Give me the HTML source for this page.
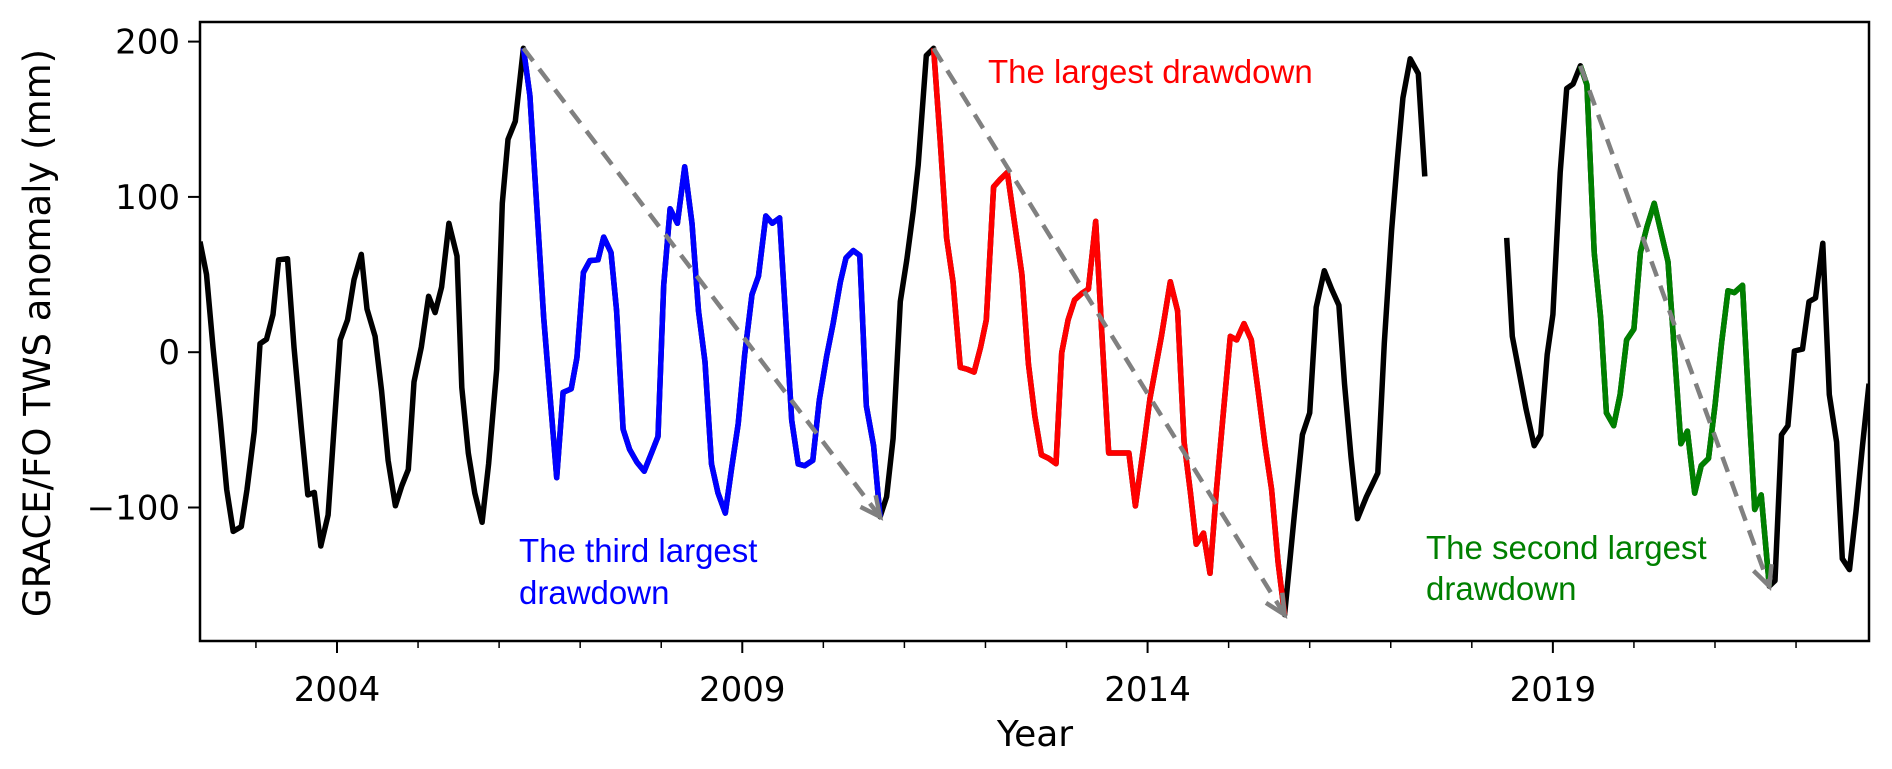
<!DOCTYPE html>
<html><head><meta charset="utf-8"><style>
html,body{margin:0;padding:0;background:#fff;}
svg{display:block;}
</style></head><body>
<svg id="chart" width="1892" height="769" viewBox="0 0 1892 769" xmlns="http://www.w3.org/2000/svg">
<rect x="0" y="0" width="1892" height="769" fill="#fff"/>
<g id="plot"></g>
</svg>
<script>
const dates = [2002.31,2002.39,2002.47,2002.56,2002.64,2002.72,2002.82,2002.89,2002.98,2003.05,2003.13,2003.21,2003.28,2003.39,2003.47,2003.56,2003.64,2003.72,2003.80,2003.89,2003.97,2004.04,2004.13,2004.21,2004.30,2004.37,2004.47,2004.55,2004.63,2004.72,2004.80,2004.88,2004.95,2005.04,2005.13,2005.21,2005.29,2005.38,2005.48,2005.54,2005.62,2005.70,2005.79,2005.87,2005.97,2006.04,2006.11,2006.20,2006.30,
2006.38,2006.46,2006.55,2006.63,2006.71,2006.79,2006.89,2006.96,2007.04,2007.12,2007.22,2007.29,2007.38,2007.45,2007.53,2007.61,2007.70,2007.79,2007.88,2007.96,2008.03,2008.11,2008.20,2008.29,2008.38,2008.46,2008.54,2008.62,2008.70,2008.79,2008.87,2008.95,2009.03,2009.12,2009.20,2009.29,2009.37,2009.46,2009.54,2009.61,2009.69,2009.77,2009.87,2009.95,2010.04,2010.12,2010.21,2010.28,2010.37,2010.45,2010.53,2010.62,2010.70,
2010.78,2010.86,2010.95,2011.03,2011.11,2011.17,2011.27,2011.36,
2011.44,2011.52,2011.60,2011.69,2011.77,2011.86,2011.94,2012.01,2012.10,2012.18,2012.27,2012.36,2012.45,2012.53,2012.61,2012.69,2012.78,2012.87,2012.94,2013.02,2013.10,2013.19,2013.27,2013.36,2013.44,2013.52,2013.65,2013.77,2013.85,2013.95,2014.03,2014.17,2014.28,2014.37,2014.45,2014.53,2014.60,2014.69,2014.77,2014.85,2014.93,2015.02,2015.10,2015.19,2015.28,2015.37,2015.45,2015.53,2015.61,2015.69,
2015.81,2015.91,2016.00,2016.08,2016.18,2016.27,2016.36,2016.43,2016.51,2016.59,2016.70,2016.84,2016.92,2017.01,2017.08,2017.15,2017.24,2017.34,2017.42,
2017.90,
2018.43,2018.50,2018.59,2018.67,2018.77,2018.85,2018.93,2019.00,2019.09,2019.17,2019.25,2019.34,
2019.42,2019.51,2019.59,2019.66,2019.75,2019.83,2019.91,2020.00,2020.08,2020.16,2020.25,2020.34,2020.42,2020.50,2020.58,2020.66,2020.75,2020.83,2020.92,2021.00,2021.08,2021.16,2021.24,2021.34,2021.41,2021.49,2021.57,2021.67,
2021.74,2021.82,2021.90,2021.98,2022.08,2022.16,2022.24,2022.33,2022.41,2022.50,2022.57,2022.66,2022.74,2022.82,2022.90];
const tws = [71.2,50.1,3.2,-43.8,-88.4,-115.4,-112.3,-88.4,-50.8,5.5,8.3,24.3,59.5,60.2,3.2,-48.5,-91.9,-90.3,-124.8,-104.8,-43.8,7.9,20.8,46.6,63.0,27.8,10.2,-25.0,-69.6,-98.9,-86.0,-75.5,-19.1,3.2,36.0,25.5,41.9,83.0,61.9,-22.7,-64.9,-90.7,-109.5,-72.0,-10.9,95.9,137.0,148.7,195.7,
165.1,97.5,22.2,-29.5,-80.8,-25.9,-23.6,-3.6,51.3,59.0,59.5,74.1,64.2,26.6,-49.6,-62.6,-70.8,-76.6,-64.9,-54.3,43.1,92.4,83.0,119.4,83.0,26.6,-6.2,-72.0,-90.7,-103.6,-74.3,-46.1,-1.5,37.2,49.0,87.7,83.0,86.5,17.3,-43.8,-72.0,-73.1,-69.6,-30.9,-2.7,18.4,45.4,60.7,65.4,62.3,-34.4,-60.2,-106.0,
-93.1,-55.5,32.6,59.5,91.2,120.5,191.0,195.7,
137.0,73.6,45.4,-9.7,-10.9,-12.8,3.2,20.8,106.5,111.2,115.8,83.0,50.1,-7.4,-41.4,-66.1,-68.4,-71.8,-0.4,20.8,33.7,37.9,40.7,84.2,7.9,-64.9,-64.9,-64.9,-99.0,-61.4,-29.7,10.2,45.4,26.6,-57.9,-90.7,-123.6,-116.5,-142.4,-88.4,-41.4,10.2,7.9,18.4,7.9,-27.3,-60.2,-88.4,-135.4,-169.0,
-105.0,-53.2,-39.1,29.0,52.5,40.7,30.2,-20.3,-67.3,-107.2,-93.1,-77.8,5.8,78.4,122.6,163.7,188.9,179.4,113.2,
null,
73.6,10.2,-14.4,-36.7,-60.2,-53.2,-1.5,24.3,115.8,169.8,172.7,184.4,
172.2,64.2,21.9,-39.1,-47.3,-27.3,7.9,14.9,64.2,80.6,95.9,75.9,58.3,-0.4,-59.0,-50.8,-90.7,-73.1,-68.4,-34.4,5.5,39.6,38.4,43.1,-27.3,-101.3,-91.9,-150.6,
-147.1,-53.2,-47.3,0.8,2.0,32.6,34.9,70.1,-27.3,-57.9,-133.0,-140.0,-102.5,-60.2,-20.3];
const drawdownNames = ['third-largest','largest','second-largest'];
const drawdownStart = [2006.30, 2011.36, 2019.34];
const drawdownEnd = [2010.70, 2015.69, 2021.67];
const drawdownColors = ['#0000ff','#ff0000','#008000'];
const yTicks = [200,100,0,-100];
const yTickLabels = ['200','100','0','\u2212100'];
const xMajorTicks = [2004,2009,2014,2019];
const xMajorLabels = ['2004','2009','2014','2019'];
const xMinorTicks = [2003,2005,2006,2007,2008,2010,2011,2012,2013,2015,2016,2017,2018,2020,2021,2022];

const L=200,R=1869,T=22,B=641;
const X0=2002.31,X1=2022.90;
const x = d => L + (d - X0) * (R - L) / (X1 - X0);
const y = v => 352.2 - v * 1.553;
const NS='http://www.w3.org/2000/svg';
const svg=document.getElementById('chart');
const plot=document.getElementById('plot');
function mk(tag, attrs, parent){const e=document.createElementNS(NS,tag);for(const k in attrs)e.setAttribute(k,attrs[k]);(parent||svg).appendChild(e);return e;}

const defs=mk('defs',{});
const cp=mk('clipPath',{id:'clip'},defs);
mk('rect',{x:L,y:T,width:R-L,height:B-T},cp);

function pathFor(filter){
  let d='',pen=false;
  for(let i=0;i<dates.length;i++){
    const v=tws[i];
    if(v===null||!filter(dates[i])){pen=false;continue;}
    d+=(pen?'L':'M')+x(dates[i]).toFixed(1)+' '+y(v).toFixed(1);
    pen=true;
  }
  return d;
}
const gLines=mk('g',{'clip-path':'url(#clip)'},plot);
const base=mk('path',{d:pathFor(()=>true),fill:'none',stroke:'#000','stroke-width':5.5,'stroke-linejoin':'round'},gLines);



for(let k=0;k<drawdownStart.length;k++){
  const s=drawdownStart[k],e=drawdownEnd[k];
  const p=mk('path',{d:pathFor(d=>d>=s-0.001&&d<=e+0.001),fill:'none',stroke:drawdownColors[k],'stroke-width':5.5,'stroke-linejoin':'round'},gLines);
  
  
  const i0=dates.findIndex(d=>Math.abs(d-s)<0.001), i1=dates.findIndex(d=>Math.abs(d-e)<0.001);
  const x1=x(s),y1=y(tws[i0]),x2=x(e),y2=y(tws[i1]);
  const g=mk('g',{stroke:'#808080','stroke-width':4.5,fill:'none'},plot);
  
  
  mk('line',{x1:x1,y1:y1,x2:x2,y2:y2,'stroke-dasharray':'16 10'},g);
  const ang=Math.atan2(y2-y1,x2-x1),h=22,a=0.45;
  mk('polyline',{points:`${x2-h*Math.cos(ang-a)},${y2-h*Math.sin(ang-a)} ${x2},${y2} ${x2-h*Math.cos(ang+a)},${y2-h*Math.sin(ang+a)}`},g);
}

const frame=mk('rect',{x:L,y:T,width:R-L,height:B-T,fill:'none',stroke:'#000','stroke-width':2.5});



yTicks.forEach((v,i)=>{
  const t=mk('line',{x1:L-12,x2:L,y1:y(v),y2:y(v),stroke:'#000','stroke-width':2});
  
  
  const tx=mk('text',{x:L-20,y:y(v)+12,'text-anchor':'end','font-family':'DejaVu Sans, sans-serif','font-size':34,fill:'#000'});
  tx.textContent=yTickLabels[i];
  
  
});
xMajorTicks.forEach((d,i)=>{
  const t=mk('line',{x1:x(d),x2:x(d),y1:B,y2:B+12,stroke:'#000','stroke-width':2});
  
  
  const tx=mk('text',{x:x(d),y:B+60,'text-anchor':'middle','font-family':'DejaVu Sans, sans-serif','font-size':34,fill:'#000'});
  tx.textContent=xMajorLabels[i];
  
  
});
xMinorTicks.forEach(d=>{
  const t=mk('line',{x1:x(d),x2:x(d),y1:B,y2:B+7,stroke:'#000','stroke-width':1.5});
  
  
});
</script>
<svg style="position:absolute;left:0;top:0" width="1892" height="769">
<text x="1035" y="746" text-anchor="middle" font-family="DejaVu Sans, sans-serif" font-size="36">Year</text>
<text transform="translate(50,333) rotate(-90)" text-anchor="middle" font-family="DejaVu Sans, sans-serif" font-size="37">GRACE/FO TWS anomaly (mm)</text>
<text font-family="Liberation Sans, sans-serif" font-size="33" fill="#0000ff"><tspan x="519" y="562">The third largest</tspan><tspan x="519" y="604">drawdown</tspan></text>
<text x="988" y="83" font-family="Liberation Sans, sans-serif" font-size="33" fill="#ff0000">The largest drawdown</text>
<text font-family="Liberation Sans, sans-serif" font-size="33" fill="#008000"><tspan x="1426" y="559">The second largest</tspan><tspan x="1426" y="600">drawdown</tspan></text>
</svg>
</body></html>
